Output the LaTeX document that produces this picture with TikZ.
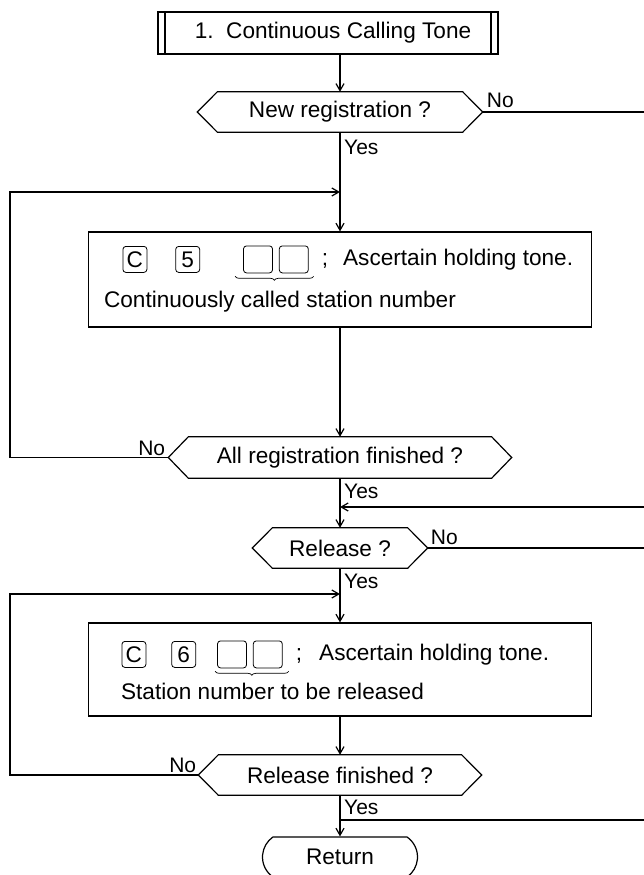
\documentclass[tikz,border=0pt]{standalone}
\usepackage{fontspec}
\setmainfont{Liberation Sans}
\usetikzlibrary{positioning, arrows.meta, shapes.misc, decorations.pathreplacing}

\tikzset{
  flow/.style={line width=1.2pt},
  prebox/.style={draw, flow, minimum width=340pt, minimum height=42pt, inner sep=0pt,
    path picture={\draw[flow] ([xshift=7pt]path picture bounding box.north west) -- ([xshift=7pt]path picture bounding box.south west)
      ([xshift=-7pt]path picture bounding box.north east) -- ([xshift=-7pt]path picture bounding box.south east);}},
  dec/.style={inner sep=0pt, minimum height=40pt},
  procbox/.style={draw, flow, minimum width=503pt, inner sep=0pt},
  key/.style={draw, line width=0.8pt, rounded corners=3pt, minimum width=24pt, minimum height=26pt, inner sep=0pt},
  slot/.style={draw, line width=0.8pt, rounded corners=3pt, minimum width=29pt, minimum height=27pt, inner sep=0pt},
  lbl/.style={inner sep=0pt, font=\fontsize{21}{24}\selectfont},
}

\begin{document}
\begin{tikzpicture}[x=1pt, y=-1pt, >={Straight Barb[length=7pt, width=8pt]}, font=\fontsize{22.6}{26}\selectfont]
        \useasboundingbox (0,0) rectangle (644,875);

        \node[prebox] (title) at (328,33) {\hspace{10pt}1.\ \ Continuous Calling Tone};
        \node[dec, minimum width=285pt, below of=title, node distance=79pt, xshift=12pt] (dec1) {New registration ?};
        \node[procbox, minimum height=95pt, below of=dec1, node distance=167.5pt] (box1) {};
        \node[dec, minimum width=343pt, minimum height=41pt, below of=box1, node distance=178pt] (dec2) {All registration finished ?};
        \node[dec, minimum width=175pt, below of=dec2, node distance=90.5pt] (dec3) {Release ?};
        \node[procbox, minimum height=93pt, below of=dec3, node distance=121.5pt] (box2) {};
        \node[dec, minimum width=283pt, below of=box2, node distance=105.5pt] (dec4) {Release finished ?};
        \node[draw, flow, rounded rectangle, rounded rectangle arc length=110, minimum width=155pt, minimum height=40pt, inner sep=0pt,
              below of=dec4, node distance=82pt] (ret) {Return};

        % hexagon outlines of the decisions
        \foreach \d in {dec1,dec2,dec3,dec4}
          \draw[flow] (\d.west) -- ([xshift=20pt]\d.north west) -- ([xshift=-20pt]\d.north east) -- (\d.east)
            -- ([xshift=-20pt]\d.south east) -- ([xshift=20pt]\d.south west) -- cycle;

        % first entry box
        \node[key] (c1) at ([shift={(47,28)}]box1.north west) {C};
        \node[key, right=28pt of c1] (k5) {5};
        \node[slot, right=43pt of k5] (s1) {};
        \node[slot, right=6pt of s1] (s2) {};
        \node[inner sep=0pt, right=13pt of s2] (t1) {;\hspace{15pt}Ascertain holding tone.};
        \node[inner sep=0pt, anchor=west] (t2) at ([shift={(16,70)}]box1.north west) {Continuously called station number};
        \draw[line width=0.7pt, decorate, decoration={brace, mirror, amplitude=4pt}]
          ([xshift=-8pt, yshift=-3pt]s1.south west) -- ([xshift=5pt, yshift=-3pt]s2.south east);

        % second entry box
        \node[key] (c2) at ([shift={(46,32)}]box2.north west) {C};
        \node[key, right=25pt of c2] (k6) {6};
        \node[slot, right=21pt of k6] (s3) {};
        \node[slot, right=6pt of s3] (s4) {};
        \node[inner sep=0pt, right=13pt of s4] (t3) {;\hspace{17pt}Ascertain holding tone.};
        \node[inner sep=0pt, anchor=west] (t4) at ([shift={(33,69)}]box2.north west) {Station number to be released};
        \draw[line width=0.7pt, decorate, decoration={brace, mirror, amplitude=4pt}]
          ([xshift=-2pt, yshift=-3pt]s3.south west) -- ([xshift=6pt, yshift=-3pt]s4.south east);

        % loop and exit points
        \coordinate (lp1) at (10,192);
        \coordinate (lp2) at (10,594);
        \coordinate (in1) at (644,507);
        \coordinate (rim) at (644,0);
        \coordinate (out1) at (644,820);

        \draw[flow, ->] (title.south -| dec1.north) -- (dec1.north);
        \draw[flow, ->] (dec1.south) -- (box1.north);
        \draw[flow, ->] (box1.south) -- (dec2.north);
        \draw[flow, ->] (dec2.south) -- (dec3.north);
        \draw[flow, ->] (dec3.south) -- (box2.north);
        \draw[flow, ->] (box2.south) -- (dec4.north);
        \draw[flow, ->] (dec4.south) -- (ret.north);

        \draw[flow, ->] (dec2.west) -| (lp1) -- (lp1 -| box1.north);
        \draw[flow, ->] (dec4.west) -| (lp2) -- (lp2 -| box2.north);
        \draw[flow, ->] (in1) -- (in1 -| dec3.north);
        \draw[flow] (dec1.east) -- (dec1.east -| rim);
        \draw[flow] (dec3.east) -- (dec3.east -| rim);
        \draw[flow] (out1 -| ret.north) -- (out1);

        % yes / no labels
        \node[lbl, anchor=north west, xshift=4pt, yshift=-8pt] (y1) at (dec1.south) {Yes};
        \node[lbl, anchor=north west, xshift=4pt, yshift=-6pt] (y2) at (dec2.south) {Yes};
        \node[lbl, anchor=north west, xshift=4pt, yshift=-6pt] (y3) at (dec3.south) {Yes};
        \node[lbl, anchor=north west, xshift=4pt, yshift=-5pt] (y4) at (dec4.south) {Yes};
        \node[lbl, anchor=south west, xshift=4pt, yshift=4pt] (n1) at (dec1.east) {No};
        \node[lbl, anchor=south east, xshift=-3pt, yshift=2pt] (n2) at (dec2.west) {No};
        \node[lbl, anchor=south west, xshift=3pt, yshift=3pt] (n3) at (dec3.east) {No};
        \node[lbl, anchor=south east, xshift=-2pt, yshift=2pt] (n4) at (dec4.west) {No};
      \end{tikzpicture}
\end{document}
